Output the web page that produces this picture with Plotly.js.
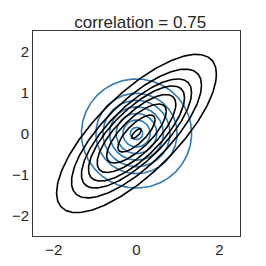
<!DOCTYPE html>
<html>
<head>
<meta charset="utf-8">
<script src="https://cdn.plot.ly/plotly-3.0.1.min.js"></script>
<style>html,body{margin:0;padding:0;background:#fff;}#chart{width:266px;height:266px;}</style>
</head>
<body>
<div id="chart"></div>
<script>
// correlation of the black (correlated) distribution
const rho = 0.75;
// contour levels, as Mahalanobis radii
const blackLevels = [0.12, 0.45, 0.72, 0.95, 1.16, 1.33, 1.57, 1.93];
const blueLevels = [0.15, 0.33, 0.49, 0.65, 0.81, 0.98, 1.33];
const axisRange = [-2.5, 2.5];
const xTickVals = [-2, 0, 2];
const xTickText = ['\u22122', '0', '2'];
const yTickVals = [-2, -1, 0, 1, 2];
const yTickText = ['\u22122', '\u22121', '0', '1', '2'];
const titleText = 'correlation = 0.75';

// contour of the bivariate normal density at Mahalanobis radius m
function levelCurve(m, r) {
  const xs = [], ys = [];
  const steps = 240;
  const s = Math.sqrt(1 - r * r);
  for (let k = 0; k <= steps; k++) {
    const t = 2 * Math.PI * k / steps;
    const c = Math.cos(t), sn = Math.sin(t);
    xs.push(m * c);
    ys.push(m * (r * c + s * sn));
  }
  return {xs, ys};
}

function curveTrace(m, r, color) {
  const c = levelCurve(m, r);
  return {
    type: 'scatter', mode: 'lines', x: c.xs, y: c.ys,
    line: {color: color, width: 1.6},
    showlegend: false, hoverinfo: 'skip'
  };
}

const traces = [];
blueLevels.forEach(m => traces.push(curveTrace(m, 0, '#2c7bb6')));
blackLevels.forEach(m => traces.push(curveTrace(m, rho, '#000000')));

const axisCommon = {
  range: axisRange, showgrid: false, zeroline: false,
  showline: true, mirror: true, linecolor: '#3a3a3a', linewidth: 1,
  ticks: '', tickfont: {family: 'Liberation Sans, Arial, sans-serif', size: 15, color: '#262626'}
};

const layout = {
  width: 266, height: 266,
  margin: {l: 33, r: 26, t: 31, b: 30},
  paper_bgcolor: '#ffffff', plot_bgcolor: '#ffffff',
  showlegend: false,
  title: {text: titleText, x: 0.527, xanchor: 'center', y: 0.918, yanchor: 'middle',
          font: {family: 'Liberation Sans, Arial, sans-serif', size: 17, color: '#262626'}},
  xaxis: Object.assign({}, axisCommon, {tickvals: xTickVals, ticktext: xTickText}),
  yaxis: Object.assign({}, axisCommon, {tickvals: yTickVals, ticktext: yTickText})
};

Plotly.newPlot('chart', traces, layout, {staticPlot: true, displayModeBar: false});
</script>
</body>
</html>
